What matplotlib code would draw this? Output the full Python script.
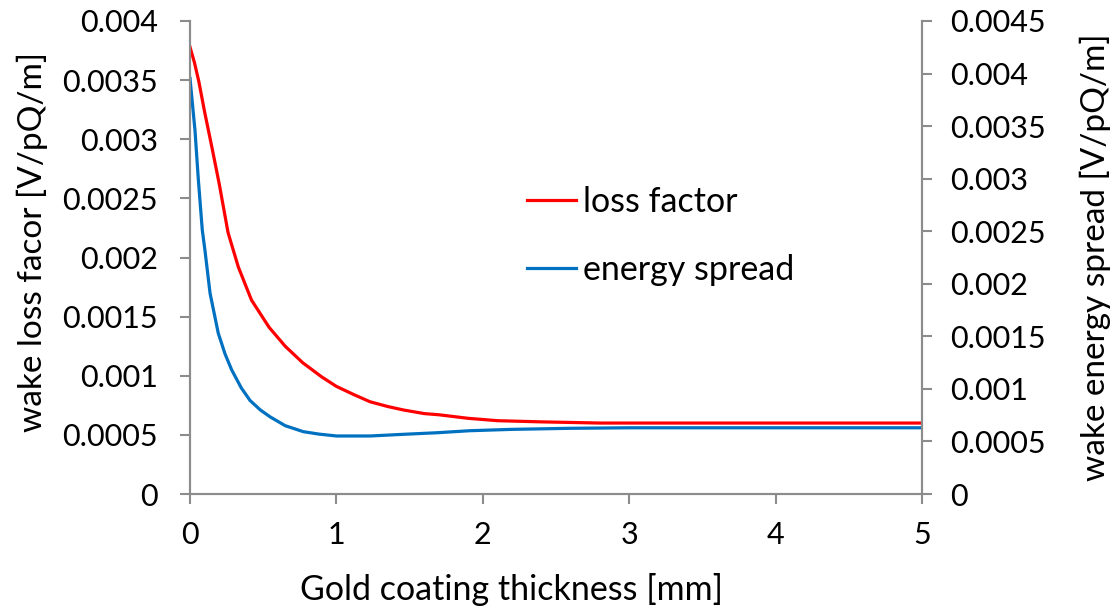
import matplotlib
matplotlib.use("Agg")
import matplotlib.pyplot as plt
from matplotlib.ticker import FixedLocator, FixedFormatter

plt.rcParams['font.family'] = ['Lato', 'DejaVu Sans']

# Data
loss_x = [0, 0.03, 0.06, 0.1, 0.15, 0.2, 0.26, 0.33, 0.42, 0.54, 0.65, 0.77, 0.9, 1.0, 1.12,
          1.23, 1.35, 1.46, 1.6, 1.7, 1.9, 2.1, 2.4, 2.8, 3.2, 4.0, 5.0]
loss_y = [0.00378, 0.00365, 0.00349, 0.00323, 0.00293, 0.00262, 0.00221, 0.00192, 0.00164, 0.00141,
          0.00125, 0.00111, 0.00099, 0.00091, 0.00084, 0.00078, 0.00074, 0.00071, 0.00068, 0.00067,
          0.00064, 0.00062, 0.00061, 0.0006, 0.0006, 0.0006, 0.0006]
spread_x = [0, 0.034, 0.057, 0.084, 0.102, 0.137, 0.193, 0.24, 0.285, 0.35, 0.41, 0.48, 0.546, 0.65,
            0.774, 0.88, 1.0, 1.23, 1.46, 1.69, 1.91, 2.2, 2.6, 3.0, 4.0, 5.0]
spread_y = [0.003955, 0.00346, 0.00299, 0.00251, 0.00232, 0.00191, 0.00153, 0.00133, 0.00118, 0.00101,
            0.00089, 0.00080, 0.000735, 0.00065, 0.000593, 0.00057, 0.000552, 0.000552, 0.000568,
            0.000583, 0.000602, 0.000615, 0.000625, 0.00063, 0.00063, 0.00063]

x_ticks = [0, 1, 2, 3, 4, 5]
left_ticks = [0, 0.0005, 0.001, 0.0015, 0.002, 0.0025, 0.003, 0.0035, 0.004]
left_labels = ['0', '0.0005', '0.001', '0.0015', '0.002', '0.0025', '0.003', '0.0035', '0.004']
right_ticks = [0, 0.0005, 0.001, 0.0015, 0.002, 0.0025, 0.003, 0.0035, 0.004, 0.0045]
right_labels = ['0', '0.0005', '0.001', '0.0015', '0.002', '0.0025', '0.003', '0.0035', '0.004', '0.0045']

fig = plt.figure(figsize=(11.11, 6.13), dpi=100)
ax = fig.add_axes([190/1111, 1-494/613, (922-190)/1111, (494-21)/613])
ax2 = ax.twinx()

fs = 22
red = '#FF0000'
blue = '#0070C0'
spine_c = '#8C8C8C'

l1, = ax.plot(loss_x, loss_y, color=red, lw=2.3, label='loss factor', solid_joinstyle='round')
l2, = ax2.plot(spread_x, spread_y, color=blue, lw=2.3, label='energy spread', solid_joinstyle='round')

ax.set_xlim(0, 5)
ax.set_ylim(0, 0.004)
ax2.set_ylim(0, 0.0045)

ax.xaxis.set_major_locator(FixedLocator(x_ticks))
ax.set_xticklabels([str(v) for v in x_ticks])
ax.yaxis.set_major_locator(FixedLocator(left_ticks))
ax.yaxis.set_major_formatter(FixedFormatter(left_labels))
ax2.yaxis.set_major_locator(FixedLocator(right_ticks))
ax2.yaxis.set_major_formatter(FixedFormatter(right_labels))

for a in (ax, ax2):
    a.spines['top'].set_visible(False)
    for s in ('left', 'right', 'bottom'):
        a.spines[s].set_color(spine_c)
        a.spines[s].set_linewidth(1.5)
    a.tick_params(axis='both', which='major', labelsize=fs, color=spine_c,
                  width=1.5, length=7.2, direction='out')
ax.tick_params(axis='y', pad=16)
ax2.tick_params(axis='y', pad=13)
ax.tick_params(axis='x', pad=12)

ax.set_xlabel('Gold coating thickness [mm]', fontsize=24.5)
ax.xaxis.set_label_coords((511-190)/732, (494-590)/473)
ax.xaxis.label.set_va('center')

ax.set_ylabel('wake loss facor [V/pQ/m]', fontsize=24)
ax.yaxis.set_label_coords((32-190)/732, (494-242)/473)
ax.yaxis.label.set_va('center')

ax2.set_ylabel('wake energy spread [V/pQ/m]', fontsize=24)
ax2.yaxis.set_label_coords((1095-190)/732, 0.5)
ax2.yaxis.label.set_va('center')

fig.legend(handles=[l1, l2], loc='upper left', bbox_to_anchor=(527/1111, 1-186/613),
           frameon=False, fontsize=24.5, handlelength=1.45, handletextpad=0.2,
           labelspacing=1.05, borderaxespad=0, borderpad=0)

fig.savefig('out.png', dpi=100)
